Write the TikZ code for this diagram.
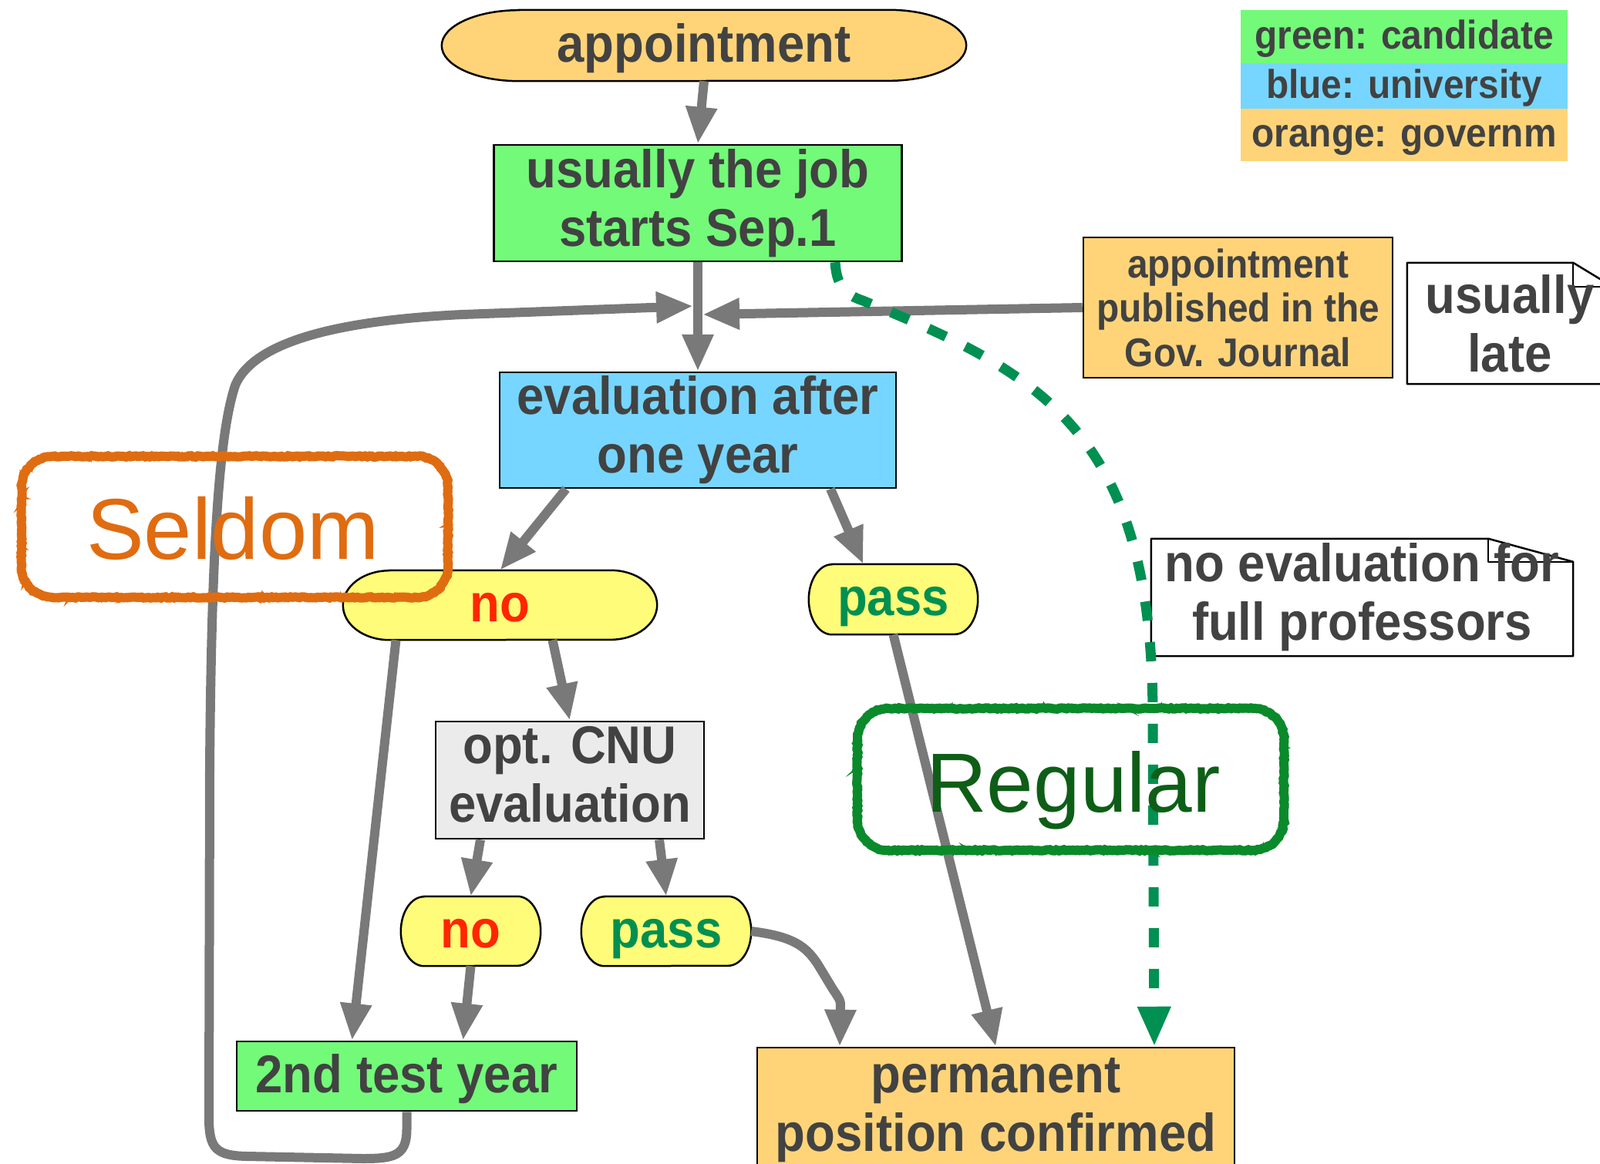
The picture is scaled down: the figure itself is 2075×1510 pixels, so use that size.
\documentclass[tikz,border=0pt]{standalone}
\usepackage{fontspec}
\newfontfamily\nf{Liberation Sans}[FakeStretch=0.92]
\newfontfamily\bigf{Liberation Sans}
\usetikzlibrary{arrows.meta,decorations.pathmorphing}
\pgfdeclarelayer{back}
\pgfdeclarelayer{bg}
\pgfsetlayers{back,bg,main}
\definecolor{cgreen}{HTML}{73FA79}
\definecolor{cblue}{HTML}{76D6FF}
\definecolor{corange}{HTML}{FFD479}
\definecolor{cyellow}{HTML}{FFFC79}
\definecolor{cgrayfill}{HTML}{EBEBEB}
\definecolor{ctext}{HTML}{424242}
\definecolor{cred}{HTML}{FF2600}
\definecolor{cpass}{HTML}{009051}
\definecolor{carrow}{HTML}{797979}
\definecolor{cseldom}{HTML}{E06C11}
\definecolor{cregbox}{HTML}{0A8A2B}
\definecolor{cregtxt}{HTML}{0E5E17}
\newcommand\pillshape[4]{%
  \begin{pgfonlayer}{bg}
  \filldraw[fill=#4,draw=black,line width=2.5pt]
    ([xshift=#2]#1.north west) -- ([xshift=-#2]#1.north east)
    arc[start angle=90,end angle=-90,x radius=#2,y radius=#3]
    -- ([xshift=#2]#1.south west)
    arc[start angle=270,end angle=90,x radius=#2,y radius=#3] -- cycle;
  \end{pgfonlayer}}
\newcommand\noteshape[3]{%
  \begin{pgfonlayer}{bg}
  \filldraw[fill=white,draw=black,line width=2.5pt,line join=round]
    (#1.north west) -- ([xshift=-#2]#1.north east) -- ([yshift=-#3]#1.north east)
    -- (#1.south east) -- (#1.south west) -- cycle;
  \draw[line width=2.5pt,line join=round]
    ([xshift=-#2]#1.north east) -- ([xshift=-#2,yshift=-#3]#1.north east)
    -- ([yshift=-#3]#1.north east);
  \end{pgfonlayer}}
\begin{document}
\begin{tikzpicture}[x=1pt,y=-1pt,
  txt/.style={inner sep=0pt,text=ctext,align=center,
    font=\nf\bfseries\fontsize{69}{76}\selectfont},
  box/.style={txt,draw=black,line width=2.5pt},
  one/.style={text height=52pt,text depth=10pt},
  small/.style={font=\nf\bfseries\fontsize{52}{57.5}\selectfont},
  onesmall/.style={text height=39pt,text depth=8pt},
  conn/.style={draw=carrow,line width=12pt,line join=round,
    -{Triangle[length=48pt,width=38pt]}},
  dashconn/.style={draw=cpass,line width=13pt,dash pattern=on 25pt off 28pt,
    -{Triangle[length=52pt,width=40pt]}},
  bigtext/.style={anchor=base,inner sep=0pt,font=\bigf\fontsize{#1}{#1}\selectfont}
]
\begin{pgfonlayer}{back}
\fill[white] (0,0) rectangle (2075,1510);
\end{pgfonlayer}
\useasboundingbox (0,0) rectangle (2075,1510);

% legend
\node[txt,small,onesmall,fill=cgreen,minimum width=424pt,minimum height=69pt] (lg1) at (1821,47.5) {green: candidate};
\node[txt,small,onesmall,fill=cblue,minimum width=424pt,minimum height=59pt] (lg2) at (1821,111.5) {blue: university};
\node[txt,small,onesmall,fill=corange,minimum width=424pt,minimum height=68pt] (lg3) at (1821,175) {orange: governm};

% nodes
\node[txt,one,minimum width=680pt,minimum height=92pt] (app) at (913,59) {appointment};
\pillshape{app}{100pt}{46pt}{corange}
\node[box,fill=cgreen,minimum width=529pt,minimum height=151pt] (job) at (905,263.5) {usually the job\\starts Sep.1};
\node[box,small,fill=corange,minimum width=401pt,minimum height=182pt] (gov) at (1605.5,399) {appointment\\published in the\\Gov. Journal};
\node[txt,minimum width=266pt,minimum height=157pt] (late) at (1958,419.5) {usually\\late};
\noteshape{late}{51pt}{31pt}
\node[box,fill=cblue,minimum width=514pt,minimum height=150pt] (eval) at (905,558) {evaluation after\\one year};
\node[txt,one,text=cred,minimum width=407pt,minimum height=90pt] (no1) at (648.5,785) {no};
\pillshape{no1}{60pt}{45pt}{cyellow}
\node[txt,one,text=cpass,minimum width=219pt,minimum height=91pt] (pass1) at (1158.5,777.5) {pass};
\pillshape{pass1}{30pt}{45.5pt}{cyellow}
\node[txt,minimum width=547pt,minimum height=152pt] (note) at (1766.5,775) {no evaluation for\\full professors};
\noteshape{note}{110pt}{30pt}
\node[box,fill=cgrayfill,minimum width=348pt,minimum height=152pt] (cnu) at (739,1012) {opt. CNU\\evaluation\vphantom{p}};
\node[txt,one,text=cred,minimum width=181pt,minimum height=90pt] (no2) at (610.5,1208) {no};
\pillshape{no2}{30pt}{45pt}{cyellow}
\node[txt,one,text=cpass,minimum width=220pt,minimum height=90pt] (pass2) at (864,1208) {pass};
\pillshape{pass2}{30pt}{45pt}{cyellow}
\node[box,one,fill=cgreen,minimum width=441pt,minimum height=90pt] (test) at (527.5,1396) {2nd test year};
\node[box,fill=corange,minimum width=619pt,minimum height=163pt] (perm) at (1291.5,1440.5) {permanent\\position confirmed};

\coordinate (jL) at (899,397);
\coordinate (jR) at (911,408);

% connectors
\draw[conn] (app.south) -- (job.north);
\draw[conn] (job.south) -- (eval.north);
\draw[conn] (gov.west) -- (jR);
\draw[conn] (test.south) -- (527.5,1465) .. controls (527.5,1500) and (510,1503) .. (470,1503)
  -- (320,1500) .. controls (280,1499) and (271,1490) .. (271,1450)
  -- (272,1000) .. controls (274,700) and (285,560) .. (305,500)
  .. controls (330,440) and (450,415) .. (600,408) -- (jL);
\draw[conn] ([xshift=-171pt]eval.south) -- (no1.north);
\draw[conn] ([xshift=172pt]eval.south) -- ([xshift=-39pt]pass1.north);
\draw[conn] ([xshift=-135pt]no1.south) -- ([xshift=-71pt]test.north);
\draw[conn] ([xshift=68pt]no1.south) -- (cnu.north);
\draw[conn] ([xshift=-116pt]cnu.south) -- (no2.north);
\draw[conn] ([xshift=116pt]cnu.south) -- (pass2.north);
\draw[conn] (no2.south) -- ([xshift=73pt]test.north);
\draw[conn] (pass1.south) -- (perm.north);
\draw[conn] (pass2.east) .. controls (1030,1215) and (1045,1228) .. (1060,1250)
  -- (1080,1283) .. controls (1090,1298) .. (1090,1305) -- ([xshift=-202.5pt]perm.north);
\draw[dashconn] ([xshift=178pt]job.south) .. controls (1085,370) and (1095,382) .. (1119,390)
  .. controls (1350,484) and (1495,560) .. (1495,930) -- ([xshift=205.5pt]perm.north);

% annotations
\foreach \lw/\amp/\seg in {12pt/0.8pt/3pt,5pt/1.6pt/2pt,4pt/1.8pt/2.4pt}{
  \draw[cseldom,line width=\lw,decorate,decoration={random steps,segment length=\seg,amplitude=\amp}]
    (68,592) -- (541,592) arc[start angle=90,end angle=0,radius=40pt]
    -- (581,735) arc[start angle=0,end angle=-90,radius=40pt]
    -- (68,775) arc[start angle=-90,end angle=-180,radius=40pt]
    -- (28,632) arc[start angle=180,end angle=90,radius=40pt] -- cycle;
  \draw[cregbox,line width=\lw,decorate,decoration={random steps,segment length=\seg,amplitude=\amp}]
    (1152,919) -- (1625,919) arc[start angle=90,end angle=0,radius=40pt]
    -- (1665,1063) arc[start angle=0,end angle=-90,radius=40pt]
    -- (1152,1103) arc[start angle=-90,end angle=-180,radius=40pt]
    -- (1112,959) arc[start angle=180,end angle=90,radius=40pt] -- cycle;
}
\node[bigtext=112,text=cseldom] (seldom) at (302,725) {Seldom};
\node[bigtext=109,text=cregtxt] (regular) at (1392,1053) {Regular};
\end{tikzpicture}
\end{document}
